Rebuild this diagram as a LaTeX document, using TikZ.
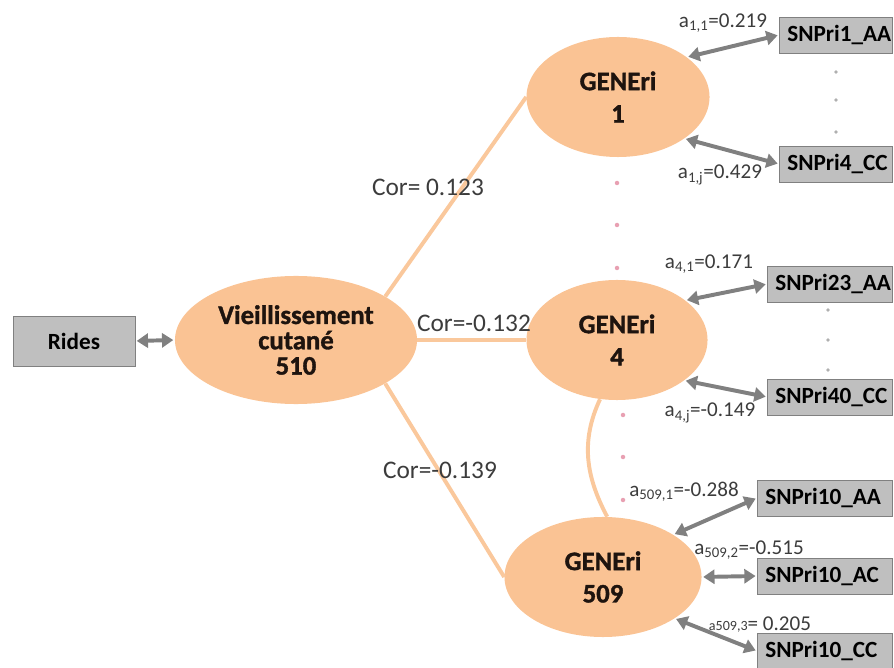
\documentclass[tikz,border=0pt]{standalone}
\usepackage{fontspec}
\setmainfont{Carlito}
\newfontface\heavyfont{Carlito Bold}[FakeBold=1.3]
\usetikzlibrary{shapes.geometric,arrows.meta}
\definecolor{peach}{RGB}{250,195,148}
\definecolor{peachline}{RGB}{250,200,156}
\definecolor{boxgray}{RGB}{191,191,191}
\definecolor{boxline}{RGB}{128,128,128}
\definecolor{arrowgray}{RGB}{128,128,128}
\definecolor{dotpink}{RGB}{232,160,178}
\definecolor{dotgray}{RGB}{175,175,175}
\definecolor{labtext}{RGB}{60,60,60}
\definecolor{genetext}{RGB}{30,20,15}
\begin{document}
\begin{tikzpicture}[x=0.025cm, y=-0.025cm,
  gene/.style={ellipse, fill=peach, inner sep=0pt, align=center, text=genetext, font=\fontsize{19}{23}\selectfont\heavyfont},
  snpbox/.style={draw=boxline, fill=boxgray, anchor=west, inner xsep=0.2cm, minimum height=0.9cm, text width=#1, align=left, font=\fontsize{16.5}{18}\selectfont\bfseries},
  link/.style={line width=2.8pt, arrowgray, {Triangle[length=8pt,width=10pt]}-{Triangle[length=8pt,width=10pt]}, shorten >=1pt, shorten <=1pt},
  cor/.style={line width=2.8pt, peachline},
  lab/.style={text=labtext, font=\fontsize{15}{17}\selectfont, inner sep=0pt},
  corlab/.style={text=labtext, font=\fontsize{18}{20}\selectfont, inner sep=0pt}]
\useasboundingbox (0,0) rectangle (894,668);

% latent variables
\node[gene, minimum width=6.05cm, minimum height=3.2cm, font=\fontsize{19}{18}\selectfont\heavyfont] (vc) at (296,340) {Vieillissement\\cutané\\510};
\node[gene, minimum width=4.575cm, minimum height=3cm] (g1) at (618,97) {GENEri\\1};
\node[gene, minimum width=4.525cm, minimum height=3cm] (g4) at (617,340) {GENEri\\4};
\node[gene, minimum width=4.925cm, minimum height=3cm] (g509) at (603,577) {GENEri\\509};

% phenotype
\node[draw=boxline, fill=boxgray, minimum width=3.05cm, minimum height=1.25cm, font=\fontsize{16.5}{18}\selectfont\bfseries] (rides) at (74,341) {Rides};

% SNP boxes
\node[snpbox=2.425cm] (s11) at (779,35) {SNPri1\_AA};
\node[snpbox=2.425cm] (s14) at (779,164) {SNPri4\_CC};
\node[snpbox=2.725cm] (s423) at (767,284) {SNPri23\_AA};
\node[snpbox=2.725cm] (s440) at (767,397) {SNPri40\_CC};
\node[snpbox=2.975cm] (saa) at (757,498) {SNPri10\_AA};
\node[snpbox=2.975cm] (sac) at (757,576) {SNPri10\_AC};
\node[snpbox=2.975cm] (scc) at (757,651) {SNPri10\_CC};

% correlations
\draw[cor] (vc.26) -- (g1.west);
\draw[cor] (vc.east) -- (g4.west);
\draw[cor] (vc.-26) -- (g509.west);
\draw[cor] (g4.-106) to[out=245, in=118] (g509.86);

\node[corlab] (c1) at (428,187) {Cor= 0.123};
\node[corlab] (c4) at (474,323) {Cor=-0.132};
\node[corlab] (c509) at (440,470) {Cor=-0.139};

% loadings
\draw[link] (rides.east) -- (vc.west);
\draw[link] (g1.30) -- (s11.west);
\draw[link] (g1.-32) -- (s14.west);
\draw[link] (g4.30) -- (s423.west);
\draw[link] (g4.-31) -- (s440.west);
\draw[link] (g509.31) -- (saa.west);
\draw[link] (g509.east) -- (sac.west);
\draw[link] (g509.-30) -- (scc.west);

\node[lab] (a11) at (723,23) {a\textsubscript{1,1}=0.219};
\node[lab] (a1j) at (720,175) {a\textsubscript{1,j}=0.429};
\node[lab] (a41) at (709,264) {a\textsubscript{4,1}=0.171};
\node[lab] (a4j) at (710,413) {a\textsubscript{4,j}=-0.149};
\node[lab] (a5091) at (684,492) {a\textsubscript{509,1}=-0.288};
\node[lab] (a5092) at (749,550) {a\textsubscript{509,2}=-0.515};
\node[lab] (a5093) at (760,625) {{\fontsize{10}{12}\selectfont a509,3}= 0.205};

% dots
\foreach \y in {183,225,268} \fill[dotpink] (617,\y) circle (1.6pt);
\foreach \y in {415,457,500} \fill[dotpink] (623,\y) circle (1.6pt);
\foreach \y in {72,100,132} \fill[dotgray] (836,\y) circle (1.4pt);
\foreach \y in {310,340,370} \fill[dotgray] (828,\y) circle (1.4pt);
\end{tikzpicture}
\end{document}
